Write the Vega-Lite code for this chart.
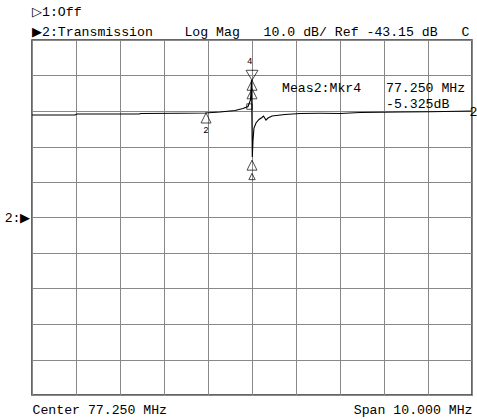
{
  "$schema": "https://vega.github.io/schema/vega-lite/v6.json",
  "width": 440,
  "height": 355,
  "autosize": "none",
  "padding": {"left": 32, "top": 40, "right": 5, "bottom": 24},
  "background": "white",
  "config": {
    "view": {"stroke": "#333", "strokeWidth": 1.5},
    "font": "Liberation Mono"
  },
  "title": {
    "text": "▷1:Off",
    "subtitle": "▶2:Transmission\u00a0\u00a0\u00a0\u00a0Log\u00a0Mag\u00a0\u00a0\u00a010.0\u00a0dB/\u00a0Ref\u00a0-43.15\u00a0dB\u00a0\u00a0\u00a0C",
    "anchor": "start",
    "frame": "group",
    "font": "Liberation Mono",
    "fontSize": 13.2,
    "fontWeight": "normal",
    "color": "black",
    "subtitleFont": "Liberation Mono",
    "subtitleFontSize": 13.2,
    "subtitleColor": "black",
    "offset": -6,
    "subtitlePadding": 7
  },
  "datasets": {
    "trace": [
      {"f": 72.25, "dB": -14.28},
      {"f": 73.227, "dB": -14.28},
      {"f": 73.273, "dB": -14.0},
      {"f": 74.682, "dB": -14.0},
      {"f": 74.727, "dB": -13.85},
      {"f": 75.614, "dB": -13.8},
      {"f": 76.182, "dB": -13.71},
      {"f": 76.523, "dB": -13.43},
      {"f": 76.864, "dB": -13.01},
      {"f": 77.045, "dB": -12.45},
      {"f": 77.159, "dB": -11.88},
      {"f": 77.216, "dB": -10.05},
      {"f": 77.239, "dB": -4.42},
      {"f": 77.257, "dB": -26.11},
      {"f": 77.273, "dB": -21.32},
      {"f": 77.295, "dB": -17.94},
      {"f": 77.341, "dB": -16.53},
      {"f": 77.409, "dB": -15.54},
      {"f": 77.477, "dB": -14.98},
      {"f": 77.511, "dB": -14.56},
      {"f": 77.568, "dB": -15.69},
      {"f": 77.614, "dB": -15.12},
      {"f": 77.705, "dB": -14.56},
      {"f": 78.0, "dB": -14.14},
      {"f": 78.341, "dB": -13.85},
      {"f": 78.795, "dB": -13.8},
      {"f": 79.25, "dB": -13.85},
      {"f": 79.705, "dB": -13.57},
      {"f": 80.159, "dB": -13.52},
      {"f": 80.614, "dB": -13.43},
      {"f": 81.295, "dB": -13.38},
      {"f": 82.25, "dB": -13.15}
    ],
    "markers": [
      {"f": 76.205, "dB": -13.71, "kind": "inactive"},
      {"f": 77.25, "dB": -4.5, "kind": "inactive"},
      {"f": 77.25, "dB": -6.9, "kind": "inactive"},
      {"f": 77.25, "dB": -27.0, "kind": "inactive"},
      {"f": 77.25, "dB": -30.7, "kind": "small"},
      {"f": 77.25, "dB": -4.5, "kind": "active"},
      {"f": 77.193, "dB": -11.9, "kind": "box"}
    ],
    "labels": [
      {"f": 76.205, "dB": -18.5, "text": "2"},
      {"f": 77.2, "dB": 0.9, "text": "4"}
    ],
    "notes": [
      {"f": 77.932, "dB": -6.67, "text": "Meas2:Mkr4"},
      {"f": 80.295, "dB": -6.67, "text": "77.250 MHz"},
      {"f": 80.295, "dB": -11.04, "text": "-5.325dB"},
      {"f": 82.193, "dB": -13.43, "text": "2"}
    ]
  },
  "encoding": {
    "x": {
      "field": "f",
      "type": "quantitative",
      "scale": {"domain": [72.25, 82.25], "nice": false, "zero": false},
      "axis": {
        "values": [72.25, 73.25, 74.25, 75.25, 76.25, 77.25, 78.25, 79.25, 80.25, 81.25, 82.25],
        "grid": true,
        "gridColor": "#888",
        "gridWidth": 1,
        "domain": false,
        "ticks": false,
        "labelExpr": "datum.value == 72.25 ? 'Center 77.250 MHz' : (datum.value == 82.25 ? 'Span 10.000 MHz' : '')",
        "labelFlush": true,
        "labelOverlap": false,
        "labelFont": "Liberation Mono",
        "labelFontSize": 13.2,
        "labelColor": "black",
        "labelPadding": 8,
        "title": null
      }
    },
    "y": {
      "field": "dB",
      "type": "quantitative",
      "scale": {"domain": [-93.15, 6.85], "nice": false, "zero": false},
      "axis": {
        "values": [6.85, -3.15, -13.15, -23.15, -33.15, -43.15, -53.15, -63.15, -73.15, -83.15, -93.15],
        "grid": true,
        "gridColor": "#888",
        "gridWidth": 1,
        "domain": false,
        "ticks": false,
        "labelExpr": "datum.value == -43.15 ? '2:▶' : ''",
        "labelOverlap": false,
        "labelFont": "Liberation Mono",
        "labelFontSize": 13.2,
        "labelColor": "black",
        "labelPadding": 2,
        "title": null
      }
    }
  },
  "layer": [
    {
      "data": {"name": "trace"},
      "mark": {"type": "line", "color": "black", "strokeWidth": 1.1, "interpolate": "linear"}
    },
    {
      "data": {"name": "markers"},
      "transform": [{"filter": "datum.kind == 'inactive'"}],
      "mark": {"type": "point", "shape": "M0,0 L0.5,1 L-0.5,1 Z", "size": 400, "filled": false, "stroke": "black", "strokeWidth": 1}
    },
    {
      "data": {"name": "markers"},
      "transform": [{"filter": "datum.kind == 'small'"}],
      "mark": {"type": "point", "shape": "M0,0 L0.5,1 L-0.5,1 Z", "size": 160, "filled": false, "stroke": "black", "strokeWidth": 1}
    },
    {
      "data": {"name": "markers"},
      "transform": [{"filter": "datum.kind == 'active'"}],
      "mark": {"type": "point", "shape": "M0,0 L0.6,-1 L-0.6,-1 Z", "size": 400, "filled": false, "stroke": "black", "strokeWidth": 1}
    },
    {
      "data": {"name": "markers"},
      "transform": [{"filter": "datum.kind == 'box'"}],
      "mark": {"type": "point", "shape": "square", "size": 30, "filled": false, "stroke": "black", "strokeWidth": 1}
    },
    {
      "data": {"name": "labels"},
      "mark": {"type": "text", "font": "Liberation Mono", "fontSize": 9, "color": "black", "align": "center", "baseline": "middle"},
      "encoding": {"text": {"field": "text"}}
    },
    {
      "data": {"name": "notes"},
      "mark": {"type": "text", "font": "Liberation Mono", "fontSize": 13.2, "color": "black", "align": "left", "baseline": "middle"},
      "encoding": {"text": {"field": "text"}}
    }
  ]
}
